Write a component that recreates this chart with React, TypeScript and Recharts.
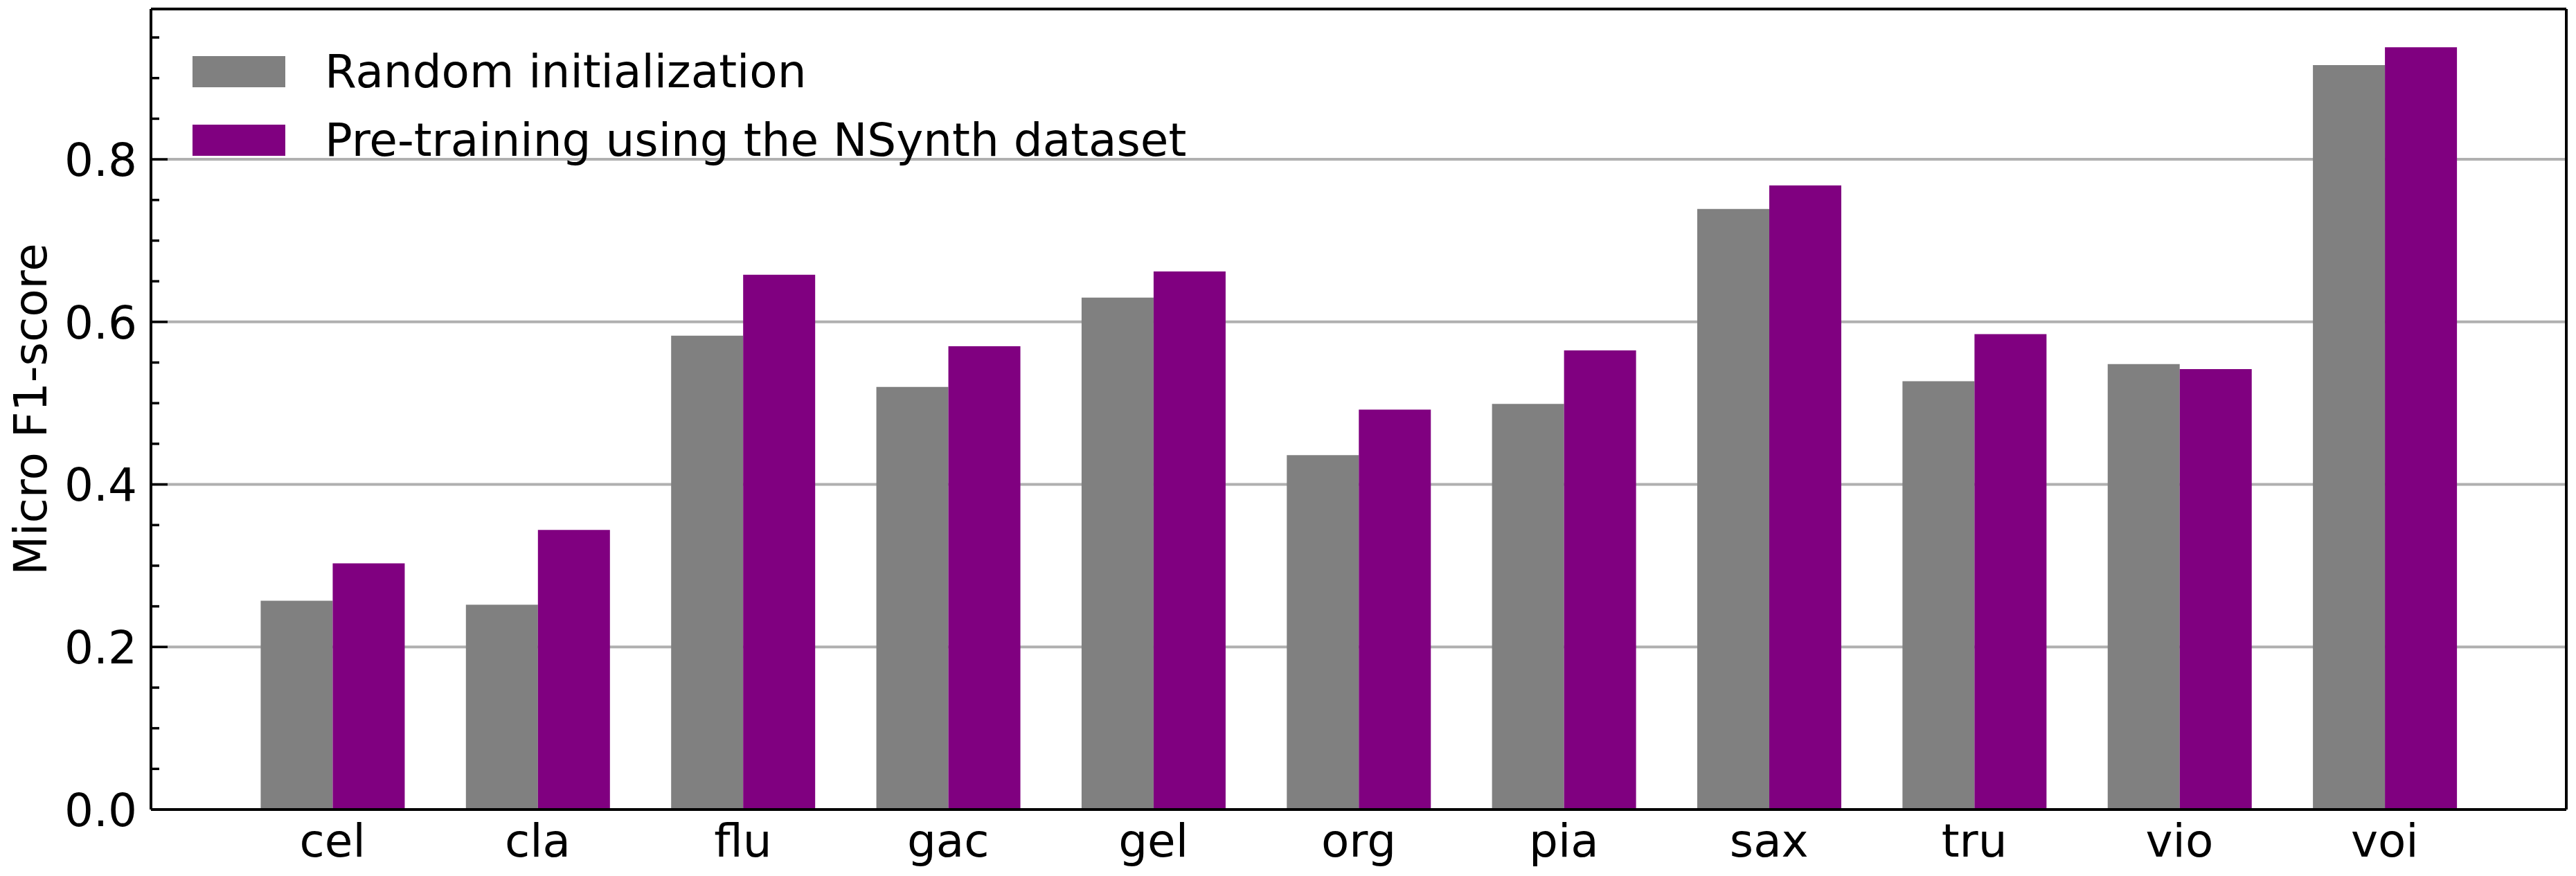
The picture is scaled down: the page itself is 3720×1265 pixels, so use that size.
import { BarChart, Bar, XAxis, YAxis, CartesianGrid, Legend } from "recharts";

const instruments = ["cel", "cla", "flu", "gac", "gel", "org", "pia", "sax", "tru", "vio", "voi"];
const randomInit = [0.257, 0.252, 0.583, 0.52, 0.63, 0.436, 0.499, 0.739, 0.527, 0.548, 0.916];
const nsynthPretrain = [0.303, 0.344, 0.658, 0.57, 0.662, 0.492, 0.565, 0.768, 0.585, 0.542, 0.938];
const seriesNames = ["Random initialization", "Pre-training using the NSynth dataset"];
const yTicks = [0, 0.05, 0.1, 0.15, 0.2, 0.25, 0.3, 0.35, 0.4, 0.45, 0.5, 0.55, 0.6, 0.65, 0.7, 0.75, 0.8, 0.85, 0.9, 0.95];
const yGridValues = [0.2, 0.4, 0.6, 0.8];

const FONT = "'DejaVu Sans', sans-serif";
const FS = 66;

const data = instruments.map((name, i) => ({
  name,
  random: randomInit[i],
  nsynth: nsynthPretrain[i],
}));

const isMajor = (v: number) => Math.abs(v * 5 - Math.round(v * 5)) < 1e-6;

function LeftTick({ x, y, payload }: any) {
  const major = isMajor(payload.value);
  return (
    <g>
      <line x1={x} x2={x + (major ? 24 : 12)} y1={y} y2={y} stroke="#000" strokeWidth={3.5} />
      {major && (
        <text x={x - 20} y={y} dy="0.36em" textAnchor="end" fontSize={FS} fontFamily={FONT} fill="#000">
          {payload.value.toFixed(1)}
        </text>
      )}
    </g>
  );
}

function RightTick({ x, y, payload }: any) {
  const major = isMajor(payload.value);
  return <line x1={x} x2={x - (major ? 24 : 12)} y1={y} y2={y} stroke="#000" strokeWidth={3.5} />;
}

function CategoryTick({ x, y, payload }: any) {
  return (
    <text x={x} y={y + 68} textAnchor="middle" fontSize={FS} fontFamily={FONT} fill="#000">
      {payload.value}
    </text>
  );
}

function YTitle({ viewBox }: any) {
  const cx = viewBox.x + 44;
  const cy = viewBox.y + viewBox.height / 2;
  return (
    <text
      x={cx}
      y={cy}
      transform={`rotate(-90 ${cx} ${cy})`}
      textAnchor="middle"
      dominantBaseline="central"
      fontSize={FS}
      fontFamily={FONT}
      fill="#000"
    >
      Micro F1-score
    </text>
  );
}

function LegendBox({ payload }: any) {
  const items = [...(payload || [])].sort(
    (a: any, b: any) => seriesNames.indexOf(a.value) - seriesNames.indexOf(b.value)
  );
  return (
    <div style={{ fontFamily: FONT, fontSize: FS, lineHeight: 1, color: "#000" }}>
      {items.map((entry: any) => (
        <div key={entry.value} style={{ display: "flex", alignItems: "center", height: 99 }}>
          <span style={{ width: 134, height: 45, background: entry.color, marginRight: 57, flexShrink: 0 }} />
          <span style={{ whiteSpace: "nowrap" }}>{entry.value}</span>
        </div>
      ))}
    </div>
  );
}

export default function App() {
  return (
    <div style={{ position: "absolute", left: 0, top: 0, background: "#fff" }}>
      <BarChart
        width={3720}
        height={1265}
        data={data}
        margin={{ top: 12, right: 13, left: 0, bottom: 0 }}
        barCategoryGap="15%"
        barGap={0}
        style={{ fontFamily: FONT }}
      >
        <CartesianGrid vertical={false} horizontalValues={yGridValues} stroke="#b0b0b0" strokeWidth={4} />
        <XAxis
          dataKey="name"
          height={96}
          padding={{ left: 114, right: 114 }}
          tickLine={false}
          tickSize={0}
          tickMargin={0}
          axisLine={{ stroke: "#000", strokeWidth: 4 }}
          tick={<CategoryTick />}
          interval={0}
        />
        <XAxis
          xAxisId="top"
          dataKey="name"
          orientation="top"
          height={1}
          padding={{ left: 114, right: 114 }}
          tick={false}
          tickLine={false}
          axisLine={{ stroke: "#000", strokeWidth: 4 }}
        />
        <YAxis
          width={218}
          domain={[0, 0.985]}
          ticks={yTicks}
          interval={0}
          tickLine={false}
          tickSize={0}
          tickMargin={0}
          axisLine={{ stroke: "#000", strokeWidth: 4 }}
          tick={<LeftTick />}
          label={(props: any) => <YTitle {...props} />}
        />
        <YAxis
          yAxisId="right"
          orientation="right"
          width={1}
          domain={[0, 0.985]}
          ticks={yTicks}
          interval={0}
          tickLine={false}
          tickSize={0}
          tickMargin={0}
          axisLine={{ stroke: "#000", strokeWidth: 4 }}
          tick={<RightTick />}
        />
        <Legend
          layout="horizontal"
          verticalAlign="middle"
          align="center"
          itemSorter={null}
          wrapperStyle={{ left: 278, top: 54, width: "auto", height: "auto" }}
          content={<LegendBox />}
        />
        <Bar dataKey="random" name={seriesNames[0]} fill="#808080" isAnimationActive={false} />
        <Bar dataKey="nsynth" name={seriesNames[1]} fill="#800080" isAnimationActive={false} />
      </BarChart>
    </div>
  );
}
